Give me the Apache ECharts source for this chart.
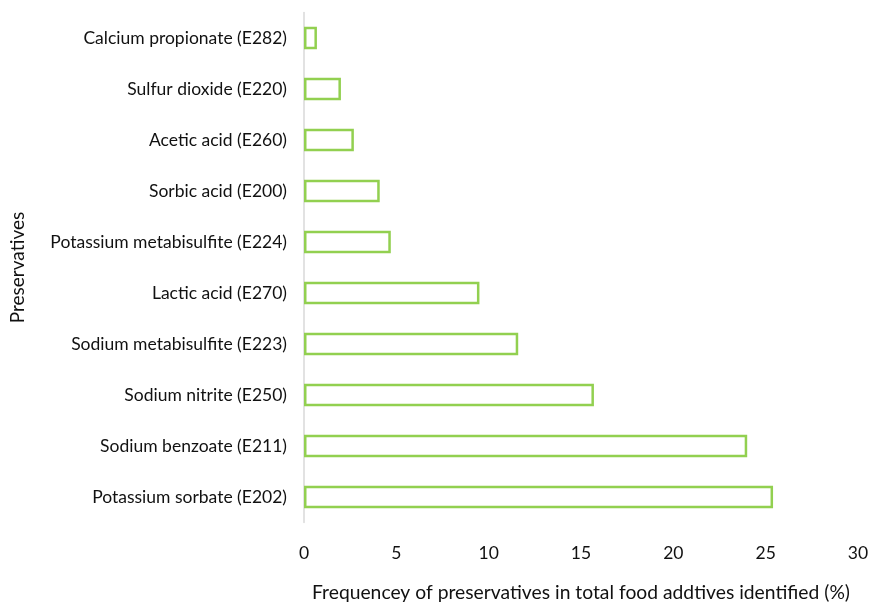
<!DOCTYPE html>
<html>
<head>
<meta charset="utf-8">
<script src="https://cdn.jsdelivr.net/npm/echarts@6/dist/echarts.min.js"></script>
<style>
  html, body { margin: 0; padding: 0; background: #fff; }
  #chart { width: 871px; height: 602px; }
</style>
</head>
<body>
<div id="chart"></div>
<script>
// Preservatives, listed top to bottom
const categories = [
  'Calcium propionate (E282)',
  'Sulfur dioxide (E220)',
  'Acetic acid (E260)',
  'Sorbic acid (E200)',
  'Potassium metabisulfite (E224)',
  'Lactic acid (E270)',
  'Sodium metabisulfite (E223)',
  'Sodium nitrite (E250)',
  'Sodium benzoate (E211)',
  'Potassium sorbate (E202)'
];
// Share of all identified food additives (%)
const frequency = [0.7, 2.0, 2.7, 4.1, 4.7, 9.5, 11.6, 15.7, 24.0, 25.4];
const xTicks = [0, 5, 10, 15, 20, 25, 30];

const FONT = 'Lato, "Noto Sans", sans-serif';
const TEXT = '#111111';

const chart = echarts.init(document.getElementById('chart'), null, { renderer: 'canvas' });
chart.setOption({
  animation: false,
  backgroundColor: '#ffffff',
  grid: {
    left: 304, right: 13, top: 12.5, bottom: 79.5,
    containLabel: false,
    outerBoundsMode: 'none'
  },
  xAxis: {
    type: 'value',
    min: xTicks[0],
    max: xTicks[xTicks.length - 1],
    interval: 5,
    name: 'Frequencey of preservatives in total food addtives identified (%)',
    nameLocation: 'middle',
    nameGap: 61,
    nameTextStyle: { fontFamily: FONT, fontSize: 19.3, color: TEXT },
    axisLine: { show: false },
    axisTick: { show: false },
    splitLine: { show: false },
    axisLabel: { fontFamily: FONT, fontSize: 17.5, color: TEXT, margin: 22 }
  },
  yAxis: {
    type: 'category',
    data: categories,
    inverse: true,
    name: 'Preservatives',
    nameLocation: 'middle',
    nameGap: 277,
    nameTextStyle: { fontFamily: FONT, fontSize: 19, color: TEXT },
    axisLine: { show: true, lineStyle: { color: '#d9d9d9', width: 1.5 } },
    axisTick: { show: false },
    axisLabel: { fontFamily: FONT, fontSize: 17.5, color: TEXT, margin: 17 }
  },
  series: [{
    type: 'bar',
    data: frequency,
    barCategoryGap: '56%',
    itemStyle: { color: '#ffffff', borderColor: '#92d050', borderWidth: 2.5 }
  }]
});
</script>
</body>
</html>
